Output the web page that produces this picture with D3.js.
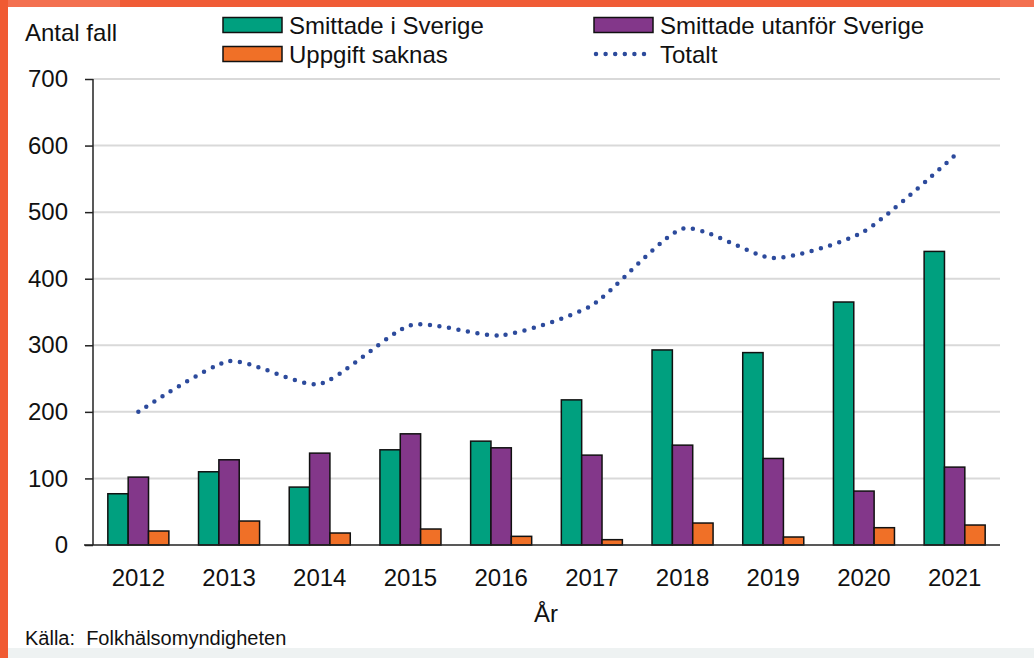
<!DOCTYPE html>
<html>
<head>
<meta charset="utf-8">
<script src="https://cdn.jsdelivr.net/npm/d3@7"></script>
<style>
  html, body { margin: 0; padding: 0; background: #fff; }
  svg { display: block; font-family: "Liberation Sans", Arial, sans-serif; }
</style>
</head>
<body>
<script>
// values
var years = ['2012', '2013', '2014', '2015', '2016', '2017', '2018', '2019', '2020', '2021'];
var inSweden = [77, 110, 87, 143, 156, 218, 293, 289, 365, 441];
var abroad = [102, 128, 138, 167, 146, 135, 150, 130, 81, 117];
var unknown = [21, 36, 18, 24, 13, 8, 33, 12, 26, 30];
var total = [200, 276, 242, 330, 315, 360, 475, 431, 471, 585];
var yTicks = [0, 100, 200, 300, 400, 500, 600, 700];

var seriesNames = ['Smittade i Sverige', 'Smittade utanför Sverige', 'Uppgift saknas'];
var seriesColors = ['#00a07f', '#83378a', '#f07027'];
var lineColor = '#2c4a9c';

var W = 1034, H = 658;
// note: "top" is taken by window.top, so plot edges get their own names
var plotLeft = 93, plotRight = 1000, plotTop = 79, plotBottom = 545;

var svg = d3.select('body').append('svg')
  .attr('width', W)
  .attr('height', H);

// frame round the picture (orange strips, grey foot)
svg.append('rect').attr('x', 0).attr('y', 0).attr('width', W).attr('height', H).attr('fill', '#fff');
svg.append('rect').attr('x', 0).attr('y', 0).attr('width', W).attr('height', 7).attr('fill', '#f05c36');
svg.append('rect').attr('x', 0).attr('y', 0).attr('width', 120).attr('height', 7).attr('fill', '#f37050');
svg.append('rect').attr('x', 1000).attr('y', 0).attr('width', 34).attr('height', 7).attr('fill', '#f37050');
svg.append('rect').attr('x', 0).attr('y', 0).attr('width', 8).attr('height', H).attr('fill', '#f05a32');
svg.append('rect').attr('x', 8).attr('y', 648).attr('width', W - 8).attr('height', 10).attr('fill', '#eef2f2');

var x = d3.scaleBand()
  .domain(years)
  .range([plotLeft, plotRight])
  .paddingInner(0.327)
  .paddingOuter(0.1635);

var xSub = d3.scaleBand()
  .domain(d3.range(seriesNames.length))
  .range([0, x.bandwidth()]);

var y = d3.scaleLinear()
  .domain([0, 700])
  .range([plotBottom, plotTop]);

// gridlines
svg.append('g')
  .selectAll('line')
  .data(yTicks.slice(1))
  .enter().append('line')
  .attr('x1', plotLeft)
  .attr('x2', plotRight)
  .attr('y1', function(d) { return y(d); })
  .attr('y2', function(d) { return y(d); })
  .style('stroke', '#d9d9d9')
  .style('stroke-width', 2);

// bars
var rows = years.map(function(yr, i) {
  return { year: yr, vals: [inSweden[i], abroad[i], unknown[i]] };
});

var groups = svg.append('g')
  .selectAll('g')
  .data(rows)
  .enter().append('g')
  .attr('transform', function(d) { return 'translate(' + x(d.year) + ',0)'; });

groups.selectAll('rect')
  .data(function(d) { return d.vals; })
  .enter().append('rect')
  .attr('x', function(d, i) { return xSub(i); })
  .attr('y', function(d) { return y(d); })
  .attr('width', xSub.bandwidth())
  .attr('height', function(d) { return y(0) - y(d); })
  .style('fill', function(d, i) { return seriesColors[i]; })
  .style('stroke', '#111')
  .style('stroke-width', 1.5);

// total line, smoothed (gently) and dotted
var line = d3.line()
  .x(function(d, i) { return x(years[i]) + x.bandwidth() / 2; })
  .y(function(d) { return y(d); })
  .curve(d3.curveCardinal.tension(0.35));

svg.append('path')
  .datum(total)
  .attr('d', line)
  .style('fill', 'none')
  .style('stroke', lineColor)
  .style('stroke-width', 4.5)
  .style('stroke-linecap', 'round')
  .style('stroke-dasharray', '0 9.6');

// axes
var yAxis = d3.axisLeft(y).tickValues(yTicks).tickSize(8).tickPadding(17);
var gy = svg.append('g')
  .attr('transform', 'translate(' + plotLeft + ',0)')
  .call(yAxis);
gy.select('.domain').attr('d', 'M0,' + plotTop + 'V' + plotBottom).style('stroke', '#222').style('stroke-width', 1.5);
gy.selectAll('.tick line').style('stroke', '#222').style('stroke-width', 1.5);
gy.selectAll('.tick text')
  .style('font-size', '24px')
  .style('fill', '#111')
  .style('font-family', '"Liberation Sans", Arial, sans-serif');

var xAxis = d3.axisBottom(x).tickSize(0).tickPadding(24);
var gx = svg.append('g')
  .attr('transform', 'translate(0,' + plotBottom + ')')
  .call(xAxis);
gx.select('.domain').attr('d', 'M84,0H' + plotRight).style('stroke', '#222').style('stroke-width', 1.5);
gx.selectAll('.tick text')
  .style('font-size', '24px')
  .style('fill', '#111')
  .style('font-family', '"Liberation Sans", Arial, sans-serif');

// titles
svg.append('text')
  .attr('x', 25).attr('y', 41)
  .style('font-size', '24px').style('fill', '#111')
  .text('Antal fall');

svg.append('text')
  .attr('x', 546).attr('y', 622)
  .attr('text-anchor', 'middle')
  .style('font-size', '24px').style('fill', '#111')
  .text('År');

svg.append('text')
  .attr('x', 25).attr('y', 645)
  .style('font-size', '20px').style('fill', '#111')
  .style('white-space', 'pre')
  .text('Källa:  Folkhälsomyndigheten');

// legend
var legendItems = [
  { name: seriesNames[0], kind: 'box', color: seriesColors[0], lx: 223, ly: 25 },
  { name: seriesNames[1], kind: 'box', color: seriesColors[1], lx: 594, ly: 25 },
  { name: seriesNames[2], kind: 'box', color: seriesColors[2], lx: 223, ly: 54 },
  { name: 'Totalt', kind: 'line', color: lineColor, lx: 594, ly: 54 }
];

var lg = svg.append('g')
  .selectAll('g')
  .data(legendItems)
  .enter().append('g')
  .attr('transform', function(d) { return 'translate(' + d.lx + ',' + d.ly + ')'; });

lg.filter(function(d) { return d.kind === 'box'; })
  .append('rect')
  .attr('x', 0).attr('y', -7.5)
  .attr('width', 59).attr('height', 15)
  .style('fill', function(d) { return d.color; })
  .style('stroke', '#111')
  .style('stroke-width', 1.5);

lg.filter(function(d) { return d.kind === 'line'; })
  .append('line')
  .attr('x1', 2).attr('x2', 56)
  .attr('y1', 0).attr('y2', 0)
  .style('stroke', function(d) { return d.color; })
  .style('stroke-width', 4.5)
  .style('stroke-linecap', 'round')
  .style('stroke-dasharray', '0 9.6');

lg.append('text')
  .attr('x', 66)
  .attr('y', 8.5)
  .style('font-size', '24px')
  .style('fill', '#111')
  .text(function(d) { return d.name; });
</script>
</body>
</html>
